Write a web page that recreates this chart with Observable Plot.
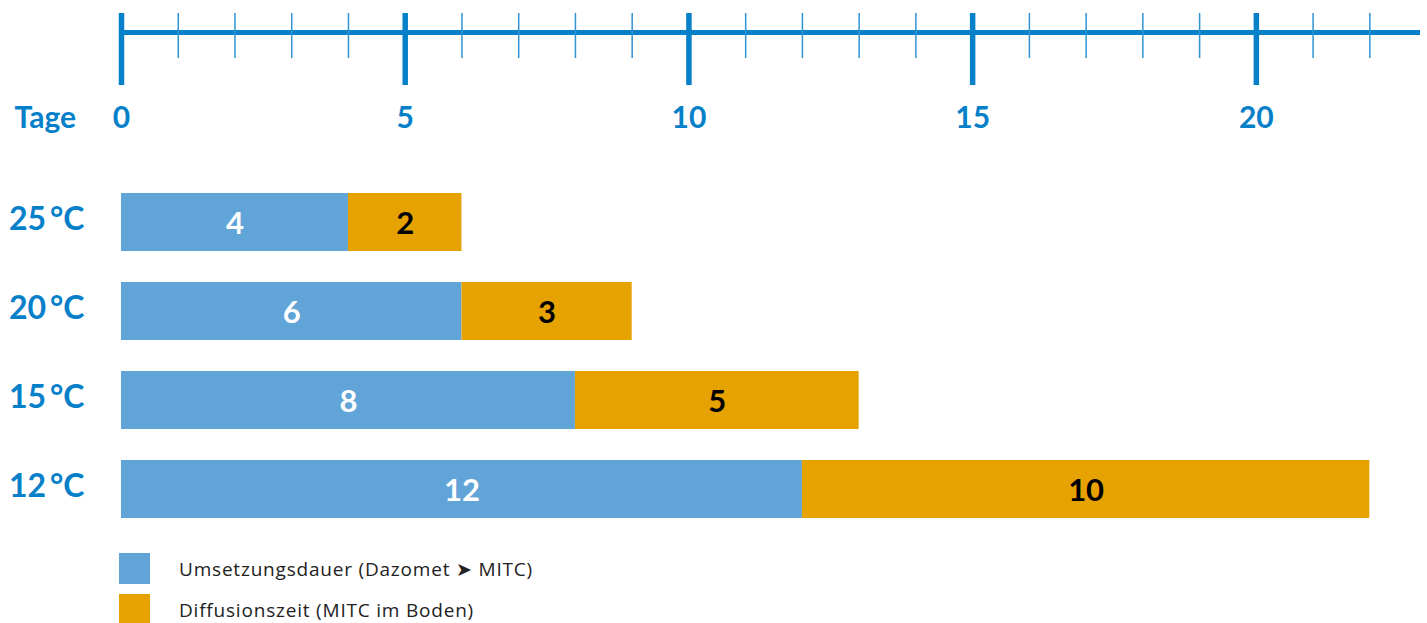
<!DOCTYPE html>
<html>
<head>
<meta charset="utf-8">
<script src="https://cdn.jsdelivr.net/npm/d3@7"></script>
<script src="https://cdn.jsdelivr.net/npm/@observablehq/plot@0.6"></script>
<style>
  html, body { margin: 0; padding: 0; background: #fff; }
  #chart svg { display: block; }
  .legend { padding-top: 13px; font-family: "Open Sans", Lato, sans-serif; }
  .legend .row { display: flex; align-items: center; height: 31px; margin-bottom: 10px; margin-left: 119px; }
  .legend .sw { width: 31px; height: 31px; margin-right: 29px; }
  .legend .lbl { font-size: 19px; color: #222; letter-spacing: 0.8px; }
</style>
</head>
<body>
<div id="chart"></div>
<script>
// ---- data ----
const temps = ["25\u2009°C", "20\u2009°C", "15\u2009°C", "12\u2009°C"];
const umsetzung = [4, 6, 8, 12];
const diffusion = [2, 3, 5, 10];
const seriesNames = ["Umsetzungsdauer (Dazomet \u27A4 MITC)", "Diffusionszeit (MITC im Boden)"];
const seriesColors = ["#61a4d7", "#e5a200"];
const labelColors = ["#ffffff", "#000000"];
const majorTicks = [0, 5, 10, 15, 20];
const minorTicks = [1, 2, 3, 4, 6, 7, 8, 9, 11, 12, 13, 14, 16, 17, 18, 19, 21, 22];
const axisMax = 22.84;
const axisTitle = "Tage";

// ---- build table ----
const rows = [];
temps.forEach((t, i) => {
  rows.push({temp: t, series: seriesNames[0], value: umsetzung[i], lc: labelColors[0]});
  rows.push({temp: t, series: seriesNames[1], value: diffusion[i], lc: labelColors[1]});
});

const blue = "#0680c9";
const H = 540;

const chart = Plot.plot({
  width: 1427,
  height: H,
  marginLeft: 121,
  marginRight: 10,
  marginTop: 0,
  marginBottom: 0,
  style: {fontFamily: "Lato, 'Open Sans', sans-serif", background: "#fff"},
  x: {domain: [0, axisMax], axis: null},
  y: {domain: temps, range: [193, 518], paddingInner: 0.348, paddingOuter: 0, round: false, axis: null},
  color: {domain: seriesNames, range: seriesColors},
  marks: [
    // top axis line
    Plot.frame({anchor: "top", insetTop: 32, stroke: blue, strokeWidth: 5}),
    // minor ticks
    Plot.ruleX(minorTicks, {x: d => d, insetTop: 13, insetBottom: H - 58, stroke: "#2f93d4", strokeWidth: 1.5}),
    // major ticks
    Plot.ruleX(majorTicks, {x: d => d, insetTop: 13, insetBottom: H - 85, stroke: blue, strokeWidth: 5.5}),
    // tick labels
    Plot.text(majorTicks, {x: d => d, text: d => String(d), frameAnchor: "top", lineAnchor: "middle", dy: 118,
      fill: blue, fontSize: 30, fontWeight: "bold"}),
    Plot.text([axisTitle], {frameAnchor: "top-left", lineAnchor: "middle", dx: -107, dy: 118, textAnchor: "start",
      text: d => d, fill: blue, fontSize: 30, fontWeight: "bold", letterSpacing: 1}),
    // y labels
    Plot.axisY({anchor: "left", tickSize: 0, tickPadding: 37, fontSize: 32, fontWeight: "bold",
      color: blue, label: null, dy: -3}),
    // bars
    Plot.barX(rows, Plot.stackX({x: "value", y: "temp", fill: "series", order: null})),
    Plot.text(rows, Plot.stackX({x: "value", y: "temp", text: d => String(d.value), fill: "lc",
      fontSize: 31, fontWeight: "bold", dy: 2, order: null}))
  ]
});
document.getElementById("chart").appendChild(chart);

// ---- legend ----
const legend = d3.select("body").append("div").attr("class", "legend");
seriesNames.forEach((name, i) => {
  const r = legend.append("div").attr("class", "row");
  r.append("div").attr("class", "sw").style("background", seriesColors[i]);
  r.append("div").attr("class", "lbl").text(name);
});
</script>
</body>
</html>
